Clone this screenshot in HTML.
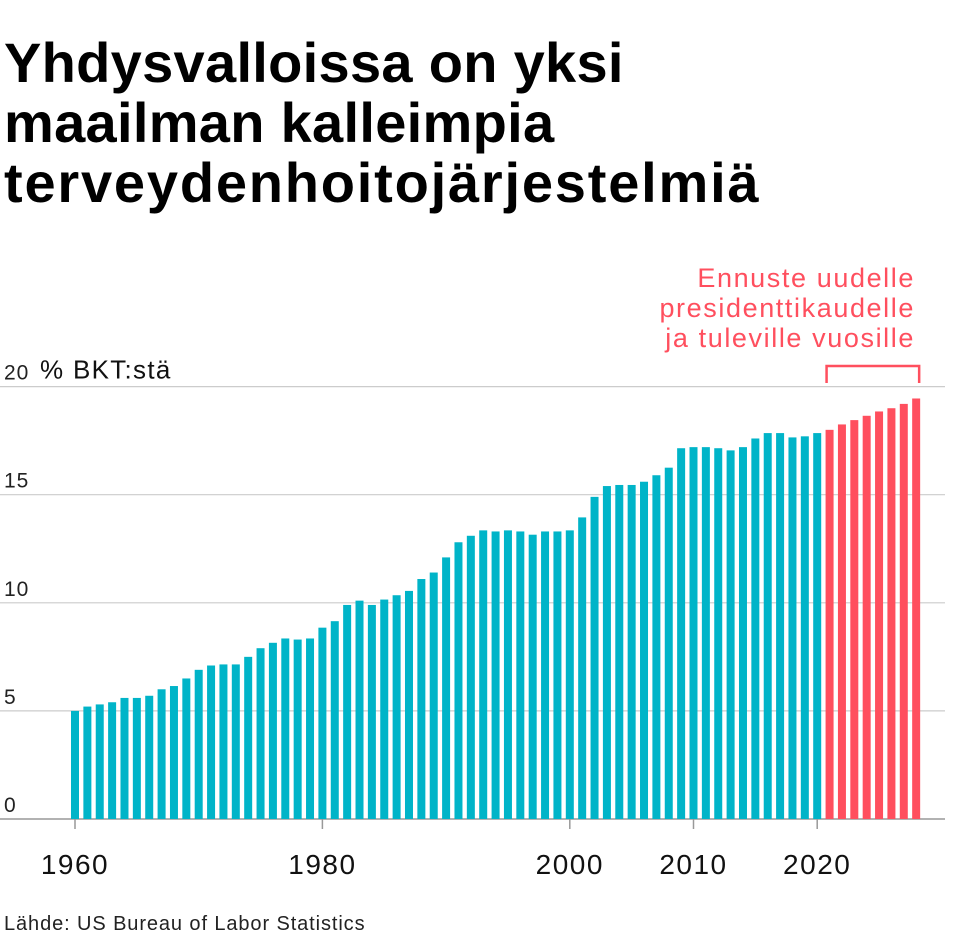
<!DOCTYPE html>
<html><head><meta charset="utf-8"><style>
body{margin:0;background:#fff;width:959px;height:945px;overflow:hidden;font-family:"Liberation Sans",sans-serif;}
h1{position:absolute;left:4px;top:33px;margin:0;font-size:56px;line-height:60px;font-weight:bold;color:#000;letter-spacing:0.3px}
</style></head><body>
<h1>Yhdysvalloissa on yksi<br>maailman kalleimpia<br><span style="letter-spacing:1.8px">terveydenhoitojärjestelmiä</span></h1>
<svg id="c" width="959" height="945" style="position:absolute;left:0;top:0"></svg>
<script>
const years=[];for(let y=1960;y<=2028;y++)years.push(y);
const values=[5.0,5.2,5.3,5.4,5.6,5.6,5.7,6.0,6.15,6.5,6.9,7.1,7.15,7.15,7.5,7.9,8.15,8.35,8.3,8.35,8.85,9.15,9.9,10.1,9.9,10.15,10.35,10.55,11.1,11.4,12.1,12.8,13.1,13.35,13.3,13.35,13.3,13.15,13.3,13.3,13.35,13.95,14.9,15.4,15.45,15.45,15.6,15.9,16.25,17.15,17.2,17.2,17.15,17.05,17.2,17.6,17.85,17.85,17.65,17.7,17.85,18.0,18.25,18.45,18.65,18.85,19.0,19.2,19.45];
const forecastFrom=2021;
const yTicks=[0,5,10,15,20];
const xTicks=[1960,1980,2000,2010,2020];
const svg=document.getElementById('c');const NS='http://www.w3.org/2000/svg';
const x=v=>75+(v-1960)*12.37;
const y=v=>819-v*21.62;
function mk(t,a){const e=document.createElementNS(NS,t);for(const k in a)e.setAttribute(k,a[k]);svg.appendChild(e);return e;}
yTicks.forEach(t=>{
 const l=mk('line',{x1:0,x2:945,y1:y(t),y2:y(t),stroke:t==0?'#999':'#ccc','stroke-width':t==0?1.5:1.2});
 
 
 const tx=mk('text',{x:4,y:y(t)-7,'font-size':21,fill:'#222','letter-spacing':1});tx.textContent=t;
 
 
});
const u=mk('text',{x:40,y:y(20)-8,'font-size':26,fill:'#111','letter-spacing':1.3});u.textContent='% BKT:stä';


years.forEach((yr,i)=>{
 const v=values[i];
 const r=mk('rect',{x:x(yr)-4,y:y(v),width:8,height:y(0)-y(v),fill:yr>=forecastFrom?'#ff4f5e':'#00b4c8'});
 
 
});
xTicks.forEach(t=>{
 const l=mk('line',{x1:x(t),x2:x(t),y1:819,y2:829,stroke:'#999','stroke-width':1.5});
 
 
 const tx=mk('text',{x:x(t),y:874,'font-size':28,fill:'#111','text-anchor':'middle','letter-spacing':1.5});tx.textContent=t;
 
 
});
const b=mk('path',{d:`M${x(2021)-3} 383 V366 H${x(2028)+3} V383`,fill:'none',stroke:'#ff4f5e','stroke-width':2.5});


['Ennuste uudelle','presidenttikaudelle','ja tuleville vuosille'].forEach((s,i)=>{
 const tx=mk('text',{x:915,y:287+i*30,'font-size':27,fill:'#ff4f5e','text-anchor':'end','letter-spacing':1.6});tx.textContent=s;
 
 
});
const src=mk('text',{x:4,y:930,'font-size':20,fill:'#222','letter-spacing':0.9});src.textContent='Lähde: US Bureau of Labor Statistics';


</script>
</body></html>
